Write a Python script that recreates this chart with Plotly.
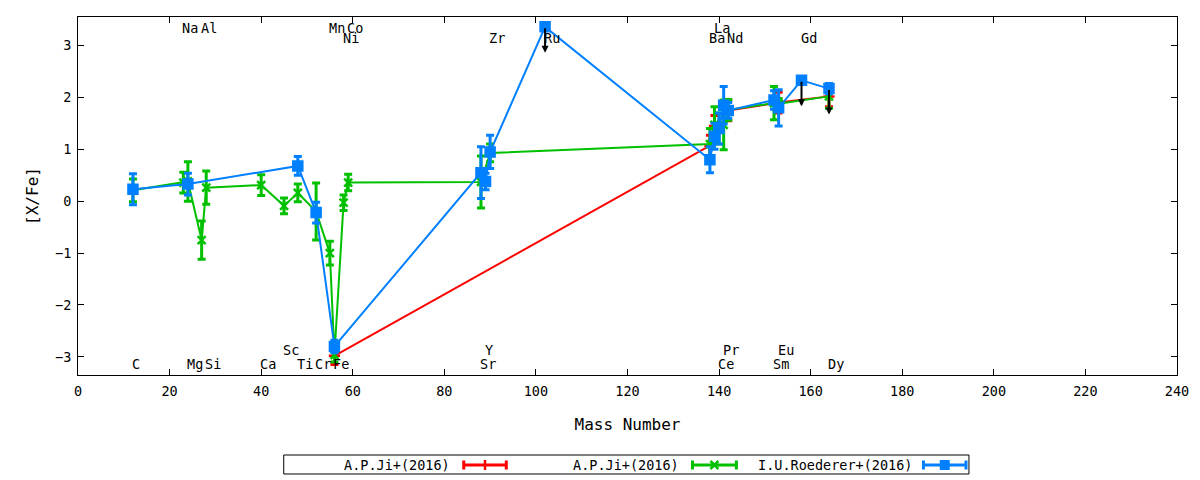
import plotly.graph_objects as go

# element labels: mass number and text row (0 = top, 1 = second from top, 2 = bottom, 3 = above bottom)
elem_names = ["C", "Na", "Mg", "Al", "Si", "Ca", "Sc", "Ti", "Cr", "Mn", "Fe", "Co", "Ni",
              "Sr", "Y", "Zr", "Ru", "Ba", "La", "Ce", "Pr", "Nd", "Sm", "Eu", "Gd", "Dy"]
elem_mass = [12, 23, 24, 27, 28, 40, 45, 48, 52, 55, 56, 59, 58,
             88, 89, 90, 102, 138, 139, 140, 141, 142, 152, 153, 158, 164]
elem_row = [2, 0, 2, 0, 2, 2, 3, 2, 2, 0, 2, 0, 1,
            2, 3, 1, 1, 1, 0, 2, 3, 1, 2, 3, 1, 2]

# A.P.Ji+(2016), first star
red_x = [56, 138, 139, 142, 153, 164]
red_y = [-2.98, 1.07, 1.45, 1.75, 1.9, 2.02]
red_err = [0.17, 0.2, 0.2, 0.2, 0.2, 0.2]

# A.P.Ji+(2016), second star
green_x = [12, 23, 24, 27, 28, 40, 45, 48, 52, 55, 56, 58, 59,
           88, 90, 138, 139, 140, 141, 142, 152, 153, 164]
green_y = [0.21, 0.36, 0.38, -0.75, 0.26, 0.31, -0.09, 0.16, -0.2, -1.0, -2.96, -0.03, 0.36,
           0.37, 0.93, 1.1, 1.47, 1.4, 1.47, 1.76, 1.89, 1.88, 2.02]
green_err = [0.22, 0.2, 0.38, 0.37, 0.32, 0.2, 0.15, 0.17, 0.55, 0.23, 0.14, 0.15, 0.16,
             0.5, 0.17, 0.3, 0.35, 0.3, 0.48, 0.2, 0.32, 0.1, 0.23]

# I.U.Roederer+(2016)
blue_x = [12, 24, 48, 52, 56, 88, 89, 90, 102, 138, 139, 140, 141, 142, 152, 153, 158, 164]
blue_y = [0.23, 0.33, 0.68, -0.22, -2.8, 0.55, 0.38, 0.95, 3.36,
          0.8, 1.25, 1.4, 1.85, 1.75, 1.95, 1.8, 2.33, 2.17]
blue_err = [0.3, 0.21, 0.18, 0.2, 0.12, 0.5, 0.16, 0.32, 0.0,
            0.25, 0.25, 0.3, 0.36, 0.15, 0.18, 0.35, 0.0, 0.1]
blue_upper = [False, False, False, False, False, False, False, False, True,
              False, False, False, False, False, False, False, True, True]

series_names = ["A.P.Ji+(2016)", "A.P.Ji+(2016)", "I.U.Roederer+(2016)"]
colors = ["#ff0000", "#00c000", "#0080ff"]
symbols = ["cross-thin", "x-thin", "square"]

FONT = "DejaVu Sans Mono"

fig = go.Figure()
data = [(red_x, red_y, red_err), (green_x, green_y, green_err), (blue_x, blue_y, blue_err)]
for (xs, ys, es), name, col, sym in zip(data, series_names, colors, symbols):
    fig.add_trace(go.Scatter(
        x=xs, y=ys, name=name, mode="lines+markers",
        line=dict(color=col, width=2),
        marker=dict(symbol=sym, size=9 if sym == "square" else 8, color=col,
                    line=dict(color=col, width=2.5)),
        error_y=dict(type="data", array=es, color=col, thickness=3, width=4),
        showlegend=False,
    ))

# upper limits drawn as black arrows
for x, y, up in zip(blue_x, blue_y, blue_upper):
    if up:
        fig.add_annotation(x=x, y=y - 0.5, ax=x, ay=y, xref="x", yref="y", axref="x", ayref="y",
                           text="", showarrow=True, arrowhead=2, arrowsize=0.7,
                           arrowwidth=2, arrowcolor="black")

row_y = [3.34, 3.15, -3.14, -2.87]
for name, m, r in zip(elem_names, elem_mass, elem_row):
    fig.add_annotation(x=m, y=row_y[r], text=name, showarrow=False, xanchor="left",
                       yanchor="middle", xshift=-3, font=dict(family=FONT, size=13.5, color="black"))

# gnuplot-style key at the bottom
key_y = -0.2514
text_right = [0.3407, 0.5486, 0.7611]
sample_x = [(0.351, 0.3897), (0.5591, 0.5991), (0.7693, 0.808)]
shapes = [dict(type="rect", xref="paper", yref="paper", x0=0.1872, x1=0.8107,
               y0=-0.2765, y1=-0.2235, line=dict(color="black", width=1))]
for name, col, sym, tr, (s0, s1) in zip(series_names, colors, symbols, text_right, sample_x):
    fig.add_annotation(x=tr, y=key_y, xref="paper", yref="paper", text=name, showarrow=False,
                       xanchor="right", yanchor="middle",
                       font=dict(family=FONT, size=13.5, color="black"))
    shapes.append(dict(type="line", xref="paper", yref="paper", x0=s0, x1=s1, y0=key_y, y1=key_y,
                       line=dict(color=col, width=3)))
    for sx in (s0, s1):
        shapes.append(dict(type="line", xref="paper", yref="paper", xsizemode="pixel",
                           ysizemode="pixel", xanchor=sx, yanchor=key_y, x0=0, x1=0, y0=-4.5, y1=4.5,
                           line=dict(color=col, width=3)))
    mid = (s0 + s1) / 2
    if sym == "square":
        shapes.append(dict(type="rect", xref="paper", yref="paper", xsizemode="pixel",
                           ysizemode="pixel", xanchor=mid, yanchor=key_y, x0=-5, x1=5, y0=-5, y1=5,
                           fillcolor=col, line=dict(width=0)))
    elif sym == "x-thin":
        for a, b in ((-4, 4), (4, -4)):
            shapes.append(dict(type="line", xref="paper", yref="paper", xsizemode="pixel",
                               ysizemode="pixel", xanchor=mid, yanchor=key_y, x0=-4, x1=4, y0=a, y1=b,
                               line=dict(color=col, width=2.5)))
    else:
        shapes.append(dict(type="line", xref="paper", yref="paper", xsizemode="pixel",
                           ysizemode="pixel", xanchor=mid, yanchor=key_y, x0=0, x1=0, y0=-5, y1=5,
                           line=dict(color=col, width=2.5)))

axis_style = dict(showline=True, linecolor="black", linewidth=1, mirror="allticks",
                  ticks="inside", ticklen=6, tickcolor="black", showgrid=False, zeroline=False,
                  tickfont=dict(family=FONT, size=13.5, color="black"))

# the page body adds 8px around the figure, so the figure is a bit smaller than the window
fig.update_layout(
    width=1192, height=472,
    margin=dict(l=70, r=23, t=9, b=105),
    paper_bgcolor="white", plot_bgcolor="white",
    font=dict(family=FONT, size=13.5, color="black"),
    shapes=shapes,
    xaxis=dict(range=[0, 240], tick0=0, dtick=20, ticklabelstandoff=4,
               title=dict(text="Mass Number", standoff=20), **axis_style),
    yaxis=dict(range=[-3.35, 3.55], tick0=0, dtick=1, ticklabelstandoff=3,
               title=dict(text="[X/Fe]", standoff=12), **axis_style),
)

fig.write_html("out.html")
